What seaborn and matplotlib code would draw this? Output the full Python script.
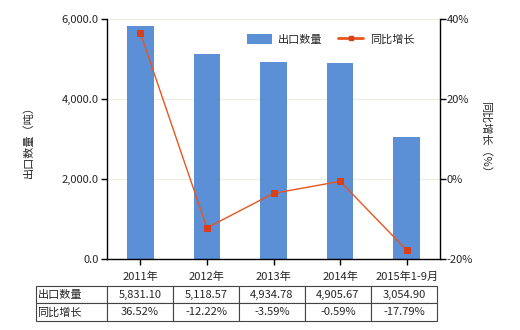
import matplotlib
matplotlib.use("Agg")
import matplotlib.pyplot as plt
import seaborn as sns
import numpy as np
from matplotlib.patches import Patch
from matplotlib.lines import Line2D
from matplotlib.ticker import FuncFormatter

categories = ["2011年", "2012年", "2013年", "2014年", "2015年1-9月"]
export_qty = [5831.10, 5118.57, 4934.78, 4905.67, 3054.90]
growth = [36.52, -12.22, -3.59, -0.59, -17.79]
qty_labels = ["5,831.10", "5,118.57", "4,934.78", "4,905.67", "3,054.90"]
growth_labels = ["36.52%", "-12.22%", "-3.59%", "-0.59%", "-17.79%"]
row_names = ["出口数量", "同比增长"]

sns.set_style("white")
plt.rcParams['font.family'] = ['Noto Sans CJK SC', 'DejaVu Sans']
plt.rcParams['axes.unicode_minus'] = False

BAR = "#5B8FD6"
LINE = "#E8561E"
MARK = "#D9401A"
FS = 8

fig = plt.figure(figsize=(5.2, 3.3), dpi=100)
ax = fig.add_axes([107/520, 1-259/330, 333/520, 240/330])

sns.barplot(x=categories, y=export_qty, color=BAR, width=0.4, ax=ax,
            saturation=1, edgecolor="none")
ax.set_ylim(0, 6000)
ax.set_xlim(-0.5, 4.5)
ax.set_yticks([0, 2000, 4000, 6000])
ax.yaxis.set_major_formatter(FuncFormatter(lambda v, p: f"{v:,.1f}"))
ax.grid(axis='y', color="#EEEEDD", linewidth=0.8)
ax.set_axisbelow(True)
for s in ["top", "right"]:
    ax.spines[s].set_visible(False)
for s in ["left", "bottom"]:
    ax.spines[s].set_color("black")
    ax.spines[s].set_linewidth(1)
ax.tick_params(axis='both', which='both', direction='out', length=4, width=1,
               color='black', labelsize=FS, bottom=True, left=True)
ax.tick_params(axis='x', pad=5)
ax.tick_params(axis='y', pad=2)
ax.set_ylabel("出口数量（吨）", fontsize=FS, labelpad=20)
ax.set_xlabel("")

ax2 = ax.twinx()
sns.pointplot(x=categories, y=growth, ax=ax2, color=LINE, markers='s',
              linewidth=1, markersize=4.5)
for line in ax2.lines:
    line.set_markerfacecolor(MARK)
    line.set_markeredgecolor(MARK)
ax2.set_ylim(-20, 40)
ax2.set_xlim(-0.5, 4.5)
ax2.set_yticks([-20, 0, 20, 40])
ax2.yaxis.set_major_formatter(FuncFormatter(lambda v, p: f"{int(v)}%"))
for s in ["top", "left", "bottom"]:
    ax2.spines[s].set_visible(False)
ax2.spines["right"].set_color("black")
ax2.spines["right"].set_linewidth(1)
ax2.tick_params(axis='y', direction='out', length=4, width=1, color='black',
                labelsize=FS, right=True, pad=1)
ax2.set_ylabel("同比增长（%）", fontsize=FS, rotation=270, labelpad=13)

handles = [Patch(facecolor=BAR, edgecolor='none'),
           Line2D([0], [0], color=LINE, lw=2, marker='s', markersize=3,
                  markerfacecolor=MARK, markeredgecolor=MARK)]
ax.legend(handles, ["出口数量", "同比增长"], loc='upper right',
          bbox_to_anchor=(0.952, 0.98), ncol=2, frameon=False,
          fontsize=FS, handlelength=2.2, handleheight=1.0, columnspacing=1.4,
          handletextpad=0.6)

cell_text = [[row_names[0]] + qty_labels, [row_names[1]] + growth_labels]
tbl = ax.table(cellText=cell_text, cellLoc='center',
               colWidths=[71/401] + [66/401]*5,
               bbox=[(36-107)/333, (259-321)/240, 401/333, 35.3/240])
tbl.auto_set_font_size(False)
tbl.set_fontsize(FS)
for (r, c), cell in tbl.get_celld().items():
    cell.set_edgecolor("#444444")
    cell.set_linewidth(0.8)
    if c == 0:
        cell.set_text_props(ha='left')
        cell.PAD = 0.02

fig.savefig("out.png", dpi=100)
